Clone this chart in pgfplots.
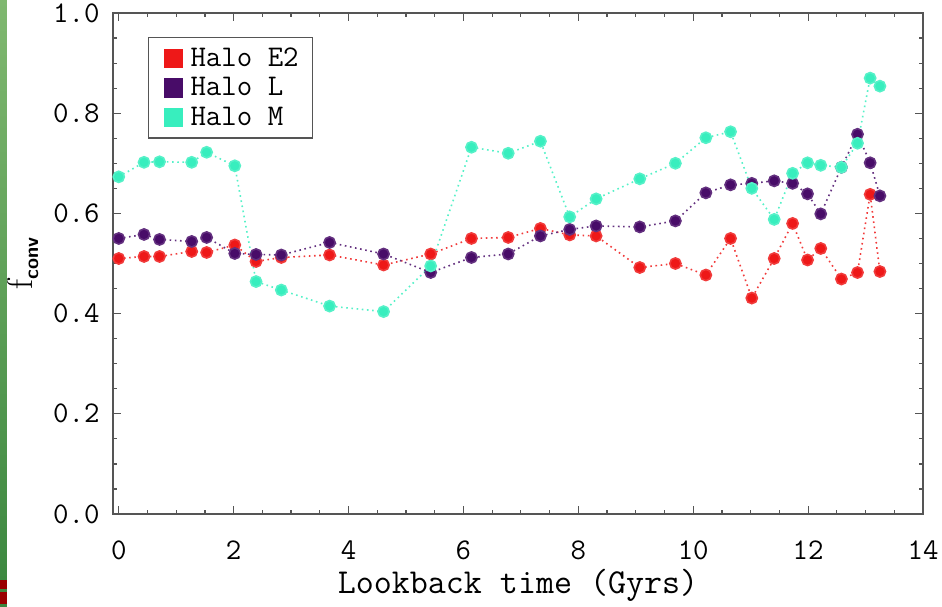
\documentclass[border=0pt]{standalone}
\usepackage{pgfplots}
\pgfplotsset{compat=1.18}
\definecolor{hred}{RGB}{238,24,24}
\definecolor{hpurple}{RGB}{72,12,104}
\definecolor{hcyan}{RGB}{56,238,190}
\definecolor{framegray}{RGB}{85,85,85}
\definecolor{gtop}{RGB}{128,184,112}
\definecolor{gbot}{RGB}{58,134,62}
\newcommand{\idlfont}{\fontsize{15}{17}\selectfont\ttfamily}
\pgfplotsset{
  halo/.style={color=#1!85, line width=0.8pt, dash pattern=on 0.8pt off 1.8pt,
    mark=*, mark size=2.8pt, mark options={solid, draw=none, fill=#1}},
  sq/.style={legend image code/.code={
    \path[draw=none, fill=none] (0pt,-4.5pt) rectangle (14pt,4.5pt);
    \fill[#1] (3pt,-4.5pt) rectangle (12pt,4.5pt);}},
}
\begin{document}
\begin{tikzpicture}
\begin{axis}[name=ax, scale only axis, width=405pt, height=250.5pt,
  xmin=-0.1, xmax=14, ymin=0, ymax=1,
  xtick={0,2,4,6,8,10,12,14}, ytick={0,0.2,0.4,0.6,0.8,1},
  minor x tick num=3, minor y tick num=3,
  major tick length=4pt, minor tick length=2pt, tick align=inside,
  axis line style={framegray, line width=0.9pt},
  every tick/.style={framegray, line width=0.6pt},
  /pgf/number format/assume math mode=true,
  tick label style={font=\idlfont, inner sep=0pt},
  xticklabel style={anchor=center, yshift=-18pt},
  yticklabel style={anchor=east, xshift=-6.5pt,
    /pgf/number format/.cd, fixed, fixed zerofill, precision=1},
  xlabel={Lookback time (Gyrs)},
  xlabel style={font=\fontsize{17.5}{19}\selectfont\ttfamily, at={(rel axis cs:0.5,0)}, anchor=center, yshift=-35.5pt},
  ylabel={\fontsize{18}{18}\selectfont f\raisebox{-0.35ex}{\fontsize{10}{10}\selectfont\sffamily\bfseries conv}},
  ylabel style={font=\rmfamily, at={(rel axis cs:0,0.5)}, anchor=center, yshift=45pt},
  legend style={at={(rel axis cs:0.043,0.952)}, anchor=north west,
    draw=framegray, line width=0.7pt, font=\idlfont, inner xsep=5pt, inner ysep=3pt,
    row sep=0pt, legend cell align=left},
]
\addplot[halo=hred, forget plot] coordinates {
(0,0.510) (0.44,0.514) (0.71,0.514) (1.27,0.524) (1.53,0.522) (2.02,0.537)
(2.39,0.504) (2.83,0.512) (3.67,0.517) (4.61,0.497) (5.43,0.519) (6.14,0.550)
(6.78,0.552) (7.34,0.570) (7.85,0.557) (8.31,0.555) (9.07,0.492) (9.69,0.500)
(10.22,0.477) (10.65,0.550) (11.02,0.431) (11.41,0.510) (11.73,0.580) (11.99,0.507)
(12.22,0.530) (12.58,0.469) (12.86,0.482) (13.08,0.638) (13.25,0.484)};
\addplot[halo=hpurple, forget plot] coordinates {
(0,0.550) (0.44,0.558) (0.71,0.548) (1.27,0.544) (1.53,0.552) (2.02,0.520)
(2.39,0.518) (2.83,0.517) (3.67,0.542) (4.61,0.519) (5.43,0.482) (6.14,0.512)
(6.78,0.519) (7.34,0.555) (7.85,0.568) (8.31,0.575) (9.07,0.573) (9.69,0.585)
(10.22,0.641) (10.65,0.657) (11.02,0.660) (11.41,0.665) (11.73,0.660) (11.99,0.639)
(12.22,0.599) (12.58,0.692) (12.86,0.758) (13.08,0.701) (13.25,0.635)};
\addplot[halo=hcyan, forget plot] coordinates {
(0,0.673) (0.44,0.702) (0.71,0.703) (1.27,0.702) (1.53,0.722) (2.02,0.695)
(2.39,0.464) (2.83,0.447) (3.67,0.415) (4.61,0.404) (5.43,0.495) (6.14,0.732)
(6.78,0.720) (7.34,0.744) (7.85,0.593) (8.31,0.629) (9.07,0.669) (9.69,0.700)
(10.22,0.751) (10.65,0.763) (11.02,0.650) (11.41,0.588) (11.73,0.680) (11.99,0.701)
(12.22,0.696) (12.58,0.692) (12.86,0.740) (13.08,0.870) (13.25,0.854)};
\addlegendimage{sq=hred}
\addlegendentry{Halo E2\hspace{7pt}}
\addlegendimage{sq=hpurple}
\addlegendentry{Halo L}
\addlegendimage{sq=hcyan}
\addlegendentry{Halo M}
\end{axis}
% green slide edge at the far left
\shade[top color=gtop, bottom color=gbot]
  ([shift={(-56.5pt,-46pt)}]ax.south west) rectangle ([shift={(-53pt,6.5pt)}]ax.north west);
\fill[red!60!black] ([shift={(-56.5pt,-45pt)}]ax.south west) rectangle ([shift={(-53pt,-39pt)}]ax.south west);
\fill[red!60!black] ([shift={(-56.5pt,-37.5pt)}]ax.south west) rectangle ([shift={(-53pt,-33pt)}]ax.south west);
\pgfresetboundingbox
\path ([shift={(-56.5pt,-46pt)}]ax.south west) rectangle ([shift={(9.5pt,6.5pt)}]ax.north east);
\end{tikzpicture}
\end{document}
